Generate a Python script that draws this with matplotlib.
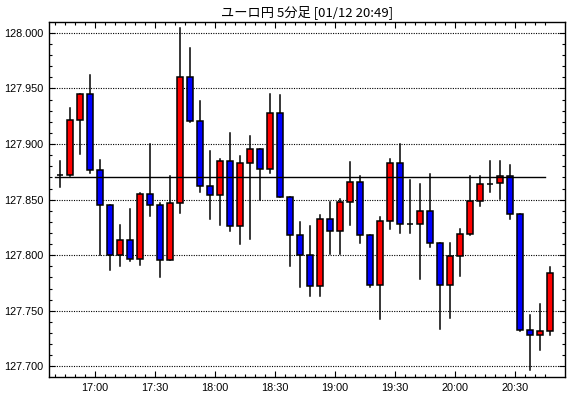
import matplotlib
matplotlib.use("Agg")
import matplotlib.pyplot as plt
from matplotlib.patches import Rectangle
from matplotlib.ticker import MultipleLocator, FormatStrFormatter
import numpy as np

title = "ユーロ円 5分足 [01/12 20:49]"
start_time = "16:40"   # first bar
bar_minutes = 5

opens = [127.872, 127.872, 127.922, 127.945, 127.877, 127.845, 127.800, 127.814, 127.797, 127.855,
         127.845, 127.796, 127.847, 127.960, 127.921, 127.862, 127.854, 127.885, 127.826, 127.883,
         127.896, 127.878, 127.928, 127.852, 127.818, 127.800, 127.772, 127.833, 127.822, 127.848,
         127.866, 127.818, 127.773, 127.831, 127.883, 127.828, 127.828, 127.840, 127.811, 127.773,
         127.799, 127.819, 127.849, 127.864, 127.865, 127.871, 127.837, 127.733, 127.728, 127.732]
highs = [127.885, 127.932, 127.945, 127.962, 127.886, 127.845, 127.827, 127.842, 127.856, 127.900,
         127.847, 127.871, 128.004, 127.986, 127.939, 127.894, 127.887, 127.910, 127.889, 127.907,
         127.896, 127.945, 127.944, 127.852, 127.830, 127.826, 127.836, 127.848, 127.851, 127.884,
         127.871, 127.818, 127.834, 127.887, 127.900, 127.868, 127.864, 127.873, 127.811, 127.811,
         127.824, 127.871, 127.871, 127.885, 127.885, 127.881, 127.837, 127.746, 127.756, 127.789]
lows = [127.861, 127.871, 127.891, 127.874, 127.800, 127.787, 127.790, 127.795, 127.791, 127.835,
        127.780, 127.796, 127.838, 127.920, 127.857, 127.833, 127.827, 127.822, 127.810, 127.815,
        127.850, 127.874, 127.852, 127.790, 127.771, 127.763, 127.763, 127.801, 127.801, 127.827,
        127.811, 127.771, 127.743, 127.824, 127.820, 127.820, 127.779, 127.807, 127.734, 127.744,
        127.781, 127.818, 127.844, 127.857, 127.851, 127.833, 127.732, 127.697, 127.715, 127.728]
closes = [127.872, 127.922, 127.945, 127.877, 127.845, 127.800, 127.814, 127.797, 127.855, 127.845,
          127.796, 127.847, 127.960, 127.921, 127.862, 127.854, 127.885, 127.826, 127.883, 127.896,
          127.878, 127.928, 127.852, 127.818, 127.800, 127.772, 127.833, 127.822, 127.848, 127.866,
          127.818, 127.773, 127.831, 127.883, 127.828, 127.828, 127.840, 127.811, 127.773, 127.799,
          127.819, 127.849, 127.864, 127.864, 127.871, 127.837, 127.733, 127.728, 127.732, 127.784]

ref_level = 127.8705
time_labels = ["17:00", "17:30", "18:00", "18:30", "19:00", "19:30", "20:00", "20:30"]


def to_minutes(s):
    h, m = s.split(":")
    return int(h) * 60 + int(m)


n = len(opens)
idx = np.arange(n)
t0 = to_minutes(start_time)
tick_pos = [(to_minutes(t) - t0) / bar_minutes - 0.5 for t in time_labels]

plt.rcParams['font.family'] = ['Liberation Sans', 'DejaVu Sans']

fig = plt.figure(figsize=(5.70, 3.98), dpi=100)
ax = fig.add_axes([49 / 570, 21 / 398, 516 / 570, 355 / 398])

w = 0.6
for i in idx:
    o, h, l, c = opens[i], highs[i], lows[i], closes[i]
    ax.plot([i, i], [l, h], color='black', lw=1.1, zorder=2)
    if c > o:
        fc = '#ff0000'
    elif c < o:
        fc = '#0000ff'
    else:
        fc = 'black'
    ax.add_patch(Rectangle((i - w / 2, min(o, c)), w, abs(c - o),
                           facecolor=fc, edgecolor='black', lw=1.1, zorder=3))

ax.plot([-0.5, n - 1.5], [ref_level, ref_level], color='black', lw=1.0, zorder=4)

ax.set_xlim(-1.1, n + 0.5)
ax.set_ylim(127.6905, 128.0098)

ax.yaxis.set_major_locator(MultipleLocator(0.05))
ax.yaxis.set_minor_locator(MultipleLocator(0.01))
ax.yaxis.set_major_formatter(FormatStrFormatter('%.3f'))
ax.set_xticks(tick_pos)
ax.set_xticklabels(time_labels)
ax.set_xticks(idx - 0.5, minor=True)

ax.grid(axis='y', which='major', color='black', linestyle=(0, (1, 1.2)), lw=0.8)
ax.tick_params(which='both', direction='in', top=True, right=True, labelsize=7.8,
               width=0.8, colors='black')
ax.tick_params(which='major', length=4, pad=4)
ax.tick_params(which='minor', length=2.3)
for sp in ax.spines.values():
    sp.set_linewidth(1.0)

fig.text(307 / 570, 1 - 12 / 398, title, ha='center', va='center', fontsize=9.5,
         family=['Noto Sans CJK JP', 'DejaVu Sans'])

fig.savefig("out.png", dpi=100)
